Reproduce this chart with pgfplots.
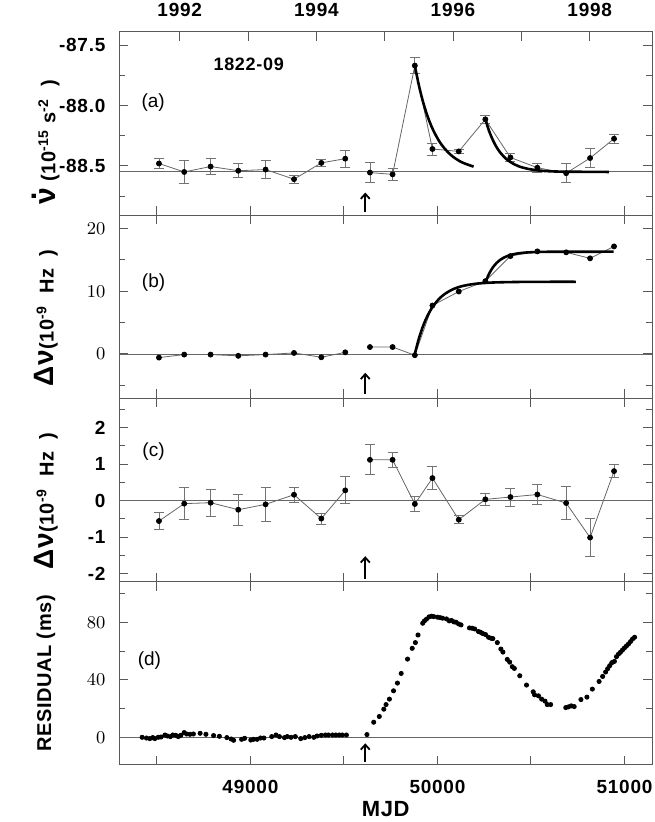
\documentclass[border=0pt]{standalone}
\usepackage{fontspec}
\setmainfont{Liberation Sans}
\newfontfamily\tickfont[LetterSpace=4]{Liberation Sans}
\newfontfamily\labfont[LetterSpace=3]{Liberation Sans}
\usepackage{pgfplots}
\pgfplotsset{compat=1.18}
\usetikzlibrary{arrows.meta}

\newcommand{\tf}{\tickfont\bfseries\fontsize{9.5}{11}\selectfont}
\newcommand{\lf}{\labfont\bfseries\fontsize{10}{12}\selectfont}
\newcommand{\nudot}{\leavevmode\rlap{\hspace{0.15em}\raisebox{0.62em}{.}}ν}

\tikzset{glitch/.style={-{Straight Barb[length=2.5pt,width=4.5pt]}, line width=0.9pt}}

\pgfplotsset{
  panel/.style={
    scale only axis, width=266.25pt, height=91.625pt,
    xmin=48300, xmax=51147,
    scaled x ticks=false, scaled y ticks=false,
    axis line style={black!65, line width=0.5pt},
    tick style={black!65, line width=0.5pt},
    major tick length=4.5pt, minor tick length=3pt,
    xtick={48500,49000,...,51000}, xticklabels={},
    tick label style={font=\tf},
    yticklabel style={xshift=-3.5pt},
    xticklabel style={yshift=-4pt},
    ylabel style={at={(axis description cs:-0.138,0.44)}, anchor=center, font=\lf},
  },
  dat/.style={black!60, line width=0.4pt, mark=*, mark size=1.25pt,
    mark options={black, fill=black, solid}},
  errs/.style={error bars/.cd, y dir=both, y explicit,
    error bar style={black!55, line width=0.4pt},
    error mark options={rotate=90, black!55, mark size=2.5pt, line width=0.4pt}},
  fit/.style={black, line width=1.3pt, no marks, smooth},
  ref/.style={black!60, line width=0.4pt, no marks, forget plot},
}

\begin{document}
\begin{tikzpicture}
\useasboundingbox (-59.75pt,-28.5pt) rectangle (267.25pt,382.5pt);

% (a) spin-down rate
\begin{axis}[panel, at={(0pt,274.875pt)}, anchor=south west,
  ymin=-88.908, ymax=-87.392,
  ytick={-88.5,-88,-87.5}, yticklabels={-88.5,-88.0,-87.5},
  minor ytick={-88.75,-88.25,-87.75}, xtick pos=bottom,
  ylabel style={at={(axis description cs:-0.138,0.40)}},
  ylabel={{\fontsize{15}{15}\selectfont\nudot}\ (10\textsuperscript{-15}\ s\textsuperscript{-2}\ \ )}]
\addplot[ref] coordinates {(48300,-88.545) (51147,-88.545)};
\addplot[dat, errs] coordinates {
  (48511,-88.48) +- (0,0.04)
  (48646,-88.55) +- (0,0.095)
  (48787,-88.505) +- (0,0.065)
  (48935,-88.54) +- (0,0.058)
  (49081,-88.53) +- (0,0.074)
  (49233,-88.61) +- (0,0.034)
  (49379,-88.475) +- (0,0.033)
  (49507,-88.44) +- (0,0.07)
};
\addplot[dat, errs] coordinates {
  (49639,-88.555) +- (0,0.082)
  (49760,-88.57) +- (0,0.048)
  (49879,-87.67) +- (0,0.066)
  (49973,-88.36) +- (0,0.05)
  (50114,-88.38) +- (0,0.017)
  (50256,-88.115) +- (0,0.037)
  (50390,-88.43) +- (0,0.03)
  (50534,-88.515) +- (0,0.037)
  (50688,-88.56) +- (0,0.08)
  (50816,-88.435) +- (0,0.08)
  (50944,-88.275) +- (0,0.035)
};
\addplot[fit] coordinates {
  (49879,-87.67) (49899,-87.822) (49919,-87.949) (49939,-88.053)
  (49959,-88.139) (49979,-88.210) (50009,-88.295) (50039,-88.358)
  (50079,-88.419) (50129,-88.469) (50193,-88.506)
};
\addplot[fit] coordinates {
  (50256,-88.115) (50276,-88.211) (50296,-88.286) (50316,-88.345)
  (50336,-88.390) (50366,-88.440) (50396,-88.474) (50436,-88.504)
  (50486,-88.525) (50556,-88.540) (50656,-88.547) (50916,-88.55)
};
\node[font=\tickfont\bfseries\fontsize{9}{10}\selectfont] at (axis cs:48991,-87.66) {1822-09};
\node[font=\fontsize{9.5}{10}\selectfont] at (axis cs:48480,-87.98) {(a)};
\draw[glitch] (axis cs:49614,-88.885) -- (axis cs:49614,-88.72);
\end{axis}

% years along the top
\begin{axis}[scale only axis, width=266.25pt, height=91.625pt,
  at={(0pt,274.875pt)}, anchor=south west,
  xmin=48300, xmax=51147, ymin=0, ymax=1,
  scaled x ticks=false,
  axis x line*=top, axis y line=none,
  axis line style={-, black!65, line width=0.5pt},
  tick align=inside, major tick length=4.5pt,
  tick style={black!65, line width=0.5pt},
  xtick={48622,48988,49353,49718,50083,50449,50814},
  xticklabels={1992,,1994,,1996,,1998},
  tick label style={font=\tf}, xticklabel style={yshift=4pt}]
\end{axis}

% (b) frequency change
\begin{axis}[panel, at={(0pt,183.25pt)}, anchor=south west,
  ymin=-7.1, ymax=22.11,
  ytick={0,10,20}, minor ytick={-5,5,15},
  ylabel={{\fontsize{14}{14}\selectfont Δν}(10\textsuperscript{-9}\ \ Hz\ \ )}]
\addplot[ref] coordinates {(48300,0) (51147,0)};
\addplot[dat] coordinates {
  (48511,-0.58) (48646,-0.1) (48787,-0.1) (48935,-0.3)
  (49081,-0.1) (49233,0.16) (49379,-0.53) (49507,0.26)
};
\addplot[dat] coordinates {
  (49639,1.1) (49760,1.1) (49879,-0.2) (49973,7.72) (50114,9.95)
  (50256,11.6) (50390,15.6) (50534,16.35) (50688,16.2) (50816,15.24)
  (50944,17.14)
};
\addplot[fit] coordinates {
  (49879,0) (49899,2.29) (49919,4.13) (49939,5.60) (49959,6.77)
  (49979,7.71) (50009,8.79) (50039,9.56) (50079,10.26) (50129,10.79)
  (50199,11.17) (50299,11.39) (50479,11.49) (50740,11.5)
};
\addplot[fit] coordinates {
  (50256,11.4) (50276,12.79) (50296,13.79) (50316,14.50) (50336,15.01)
  (50356,15.37) (50386,15.74) (50426,16.01) (50476,16.17) (50556,16.27)
  (50656,16.29) (50942,16.3)
};
\node[font=\fontsize{9.5}{10}\selectfont] at (axis cs:48482,11.4) {(b)};
\draw[glitch] (axis cs:49614,-6.35) -- (axis cs:49614,-3.0);
\end{axis}

% (c) residual frequency
\begin{axis}[panel, at={(0pt,91.625pt)}, anchor=south west,
  ymin=-2.22, ymax=2.8,
  ytick={-2,-1,0,1,2}, yticklabels={-2,-1,0,1,2},
  minor ytick={-1.5,-0.5,0.5,1.5,2.5},
  ylabel={{\fontsize{14}{14}\selectfont Δν}(10\textsuperscript{-9}\ \ Hz\ \ )}]
\addplot[ref] coordinates {(48300,0) (51147,0)};
\addplot[dat, errs] coordinates {
  (48511,-0.557) +- (0,0.24)
  (48646,-0.08) +- (0,0.44)
  (48787,-0.055) +- (0,0.37)
  (48935,-0.247) +- (0,0.42)
  (49081,-0.10) +- (0,0.46)
  (49233,0.164) +- (0,0.2)
  (49379,-0.49) +- (0,0.15)
  (49507,0.283) +- (0,0.37)
};
\addplot[dat, errs] coordinates {
  (49639,1.12) +- (0,0.41)
  (49760,1.12) +- (0,0.21)
  (49879,-0.09) +- (0,0.21)
  (49973,0.62) +- (0,0.315)
  (50114,-0.52) +- (0,0.11)
  (50256,0.037) +- (0,0.17)
  (50390,0.10) +- (0,0.25)
  (50534,0.17) +- (0,0.27)
  (50688,-0.064) +- (0,0.45)
  (50816,-1.01) +- (0,0.52)
  (50944,0.81) +- (0,0.18)
};
\node[font=\fontsize{9.5}{10}\selectfont] at (axis cs:48482,1.35) {(c)};
\draw[glitch] (axis cs:49614,-2.14) -- (axis cs:49614,-1.52);
\end{axis}

% (d) timing residuals
\begin{axis}[panel, at={(0pt,0pt)}, anchor=south west,
  ymin=-19.3, ymax=108.4,
  ytick={0,40,80}, minor ytick={20,60,100},
  xticklabels={,49000,,50000,,51000},
  ylabel={RESIDUAL (ms)},
  ylabel style={at={(axis description cs:-0.138,0.5)}},
  xlabel={MJD},
  xlabel style={at={(axis description cs:0.5,0)}, anchor=center, yshift=-22pt, font=\lf\fontsize{11}{13}\selectfont}]
\addplot[ref] coordinates {(48300,0) (51147,0)};
\addplot[only marks, mark=*, mark size=1.05pt, mark options={black, fill=black}] coordinates {
  (48421,0) (48444,-0.5) (48462,-0.9) (48478,-0.2) (48489,-0.9) (48507,0)
  (48522,0.2) (48543,1.6) (48556,0.9) (48572,0.5) (48585,1.6) (48601,1.4)
  (48614,0.5) (48628,1.4) (48646,3.3) (48659,2.3) (48677,2.1) (48695,2.3)
  (48731,2.8) (48762,2.1) (48803,1.2) (48834,0.7) (48874,-0.2) (48897,-1.2)
  (48910,-2.1) (48953,-1.4) (48969,-0.7) (49002,-1.9) (49016,-1.4) (49036,-1.4)
  (49054,-0.5) (49072,-0.5) (49114,0.5) (49137,1.6) (49155,0.5) (49182,-0.2)
  (49197,0.5) (49217,0) (49240,0.5) (49269,-0.9) (49291,-0.2) (49314,0.5)
  (49339,0) (49356,0.9) (49379,1.4) (49401,1.6) (49417,1.6) (49439,1.6)
  (49457,1.6) (49475,1.6) (49491,1.6) (49513,1.6)
  (49623,1.9) (49659,10.5) (49689,14.5) (49713,19.6) (49725,22.8) (49743,26.6)
  (49765,32.4) (49786,37.8) (49806,44.5) (49840,54.5) (49865,62.0) (49882,66.0)
  (49896,71.3) (49921,79.5) (49930,81.1) (49941,82.3) (49955,83.9) (49968,84.4)
  (49980,84.1) (50000,83.7) (50014,83.4) (50027,83.0) (50048,82.5) (50063,81.1)
  (50075,81.4) (50088,80.4) (50099,80.2) (50113,79.0) (50126,78.3) (50171,76.2)
  (50185,76.0) (50199,75.5) (50219,73.7) (50230,73.2) (50242,72.3) (50257,71.6)
  (50273,69.7) (50287,69.0) (50296,68.8) (50320,66.0) (50339,61.5) (50350,59.4)
  (50373,54.3) (50386,52.4) (50400,49.2) (50411,48.0) (50440,42.9) (50476,36.4)
  (50512,31.7) (50519,29.6) (50540,28.9) (50557,26.6) (50575,25.2) (50587,22.8)
  (50605,22.8) (50686,20.7) (50700,21.2) (50715,21.9) (50731,21.4) (50767,26.3)
  (50799,28.0) (50828,33.6) (50864,38.9) (50883,42.4) (50899,45.5) (50910,47.8)
  (50921,49.9) (50932,52.0) (50946,52.9) (50957,56.2) (50968,58.0) (50978,59.2)
  (50989,60.8) (50999,62.2) (51010,63.6) (51021,65.0) (51032,66.7) (51043,68.5)
  (51054,69.7)
};
\node[font=\fontsize{9.5}{10}\selectfont] at (axis cs:48460,53.5) {(d)};
\draw[glitch] (axis cs:49614,-17.4) -- (axis cs:49614,-4.2);
\end{axis}
\end{tikzpicture}
\end{document}
